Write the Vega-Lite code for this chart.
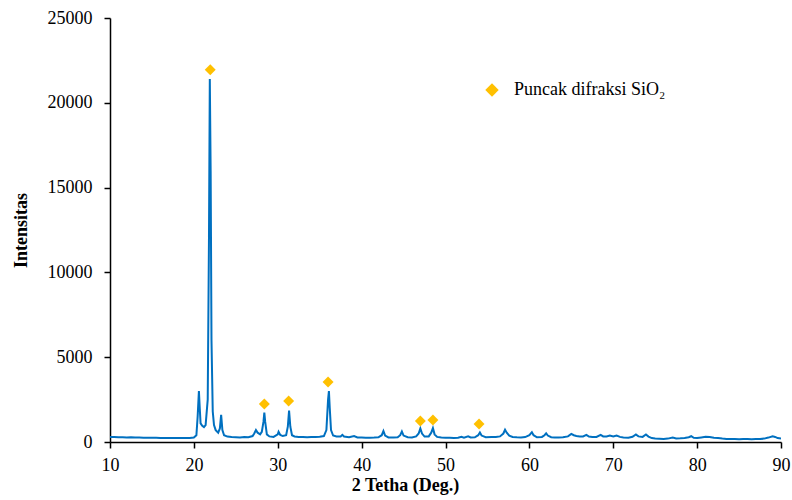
{
  "$schema": "https://vega.github.io/schema/vega-lite/v6.json",
  "autosize": "none",
  "width": 671,
  "height": 424,
  "padding": {"left": 110, "top": 18, "right": 11, "bottom": 58},
  "background": "white",
  "config": {
    "font": "Liberation Serif",
    "view": {"stroke": null},
    "axis": {"grid": false, "domainColor": "black", "tickColor": "black", "domainWidth": 1.5, "tickWidth": 1.5, "labelColor": "black", "titleColor": "black", "labelFont": "Liberation Serif", "titleFont": "Liberation Serif", "labelFontSize": 18, "titleFontSize": 18, "titleFontWeight": "bold"}
  },
  "datasets": {
    "xrd": [
      {"t": 10.0, "i": 300}, {"t": 10.5, "i": 290}, {"t": 11.0, "i": 280}, {"t": 11.5, "i": 285}, {"t": 12.0, "i": 270},
      {"t": 12.5, "i": 275}, {"t": 13.0, "i": 265}, {"t": 13.5, "i": 260}, {"t": 14.0, "i": 255}, {"t": 14.5, "i": 250},
      {"t": 15.0, "i": 245}, {"t": 15.5, "i": 250}, {"t": 16.0, "i": 240}, {"t": 16.5, "i": 240}, {"t": 17.0, "i": 235},
      {"t": 17.5, "i": 240}, {"t": 18.0, "i": 230}, {"t": 18.5, "i": 235}, {"t": 19.0, "i": 230}, {"t": 19.5, "i": 240},
      {"t": 20.0, "i": 260}, {"t": 20.3, "i": 400}, {"t": 20.45, "i": 1500}, {"t": 20.6, "i": 3000}, {"t": 20.7, "i": 2000},
      {"t": 20.8, "i": 1100}, {"t": 21.0, "i": 950}, {"t": 21.2, "i": 880}, {"t": 21.4, "i": 1000}, {"t": 21.65, "i": 2500},
      {"t": 21.8, "i": 12000}, {"t": 21.9, "i": 21400}, {"t": 22.0, "i": 16000}, {"t": 22.1, "i": 6000}, {"t": 22.25, "i": 1800},
      {"t": 22.4, "i": 1000}, {"t": 22.6, "i": 700}, {"t": 22.9, "i": 550}, {"t": 23.1, "i": 800}, {"t": 23.25, "i": 1600},
      {"t": 23.4, "i": 700}, {"t": 23.6, "i": 400}, {"t": 24.0, "i": 320}, {"t": 24.5, "i": 290}, {"t": 25.0, "i": 280},
      {"t": 25.5, "i": 270}, {"t": 26.0, "i": 300}, {"t": 26.5, "i": 280}, {"t": 27.0, "i": 350}, {"t": 27.2, "i": 500},
      {"t": 27.4, "i": 700}, {"t": 27.6, "i": 550}, {"t": 27.9, "i": 450}, {"t": 28.1, "i": 600}, {"t": 28.3, "i": 1200},
      {"t": 28.4, "i": 1730}, {"t": 28.5, "i": 1200}, {"t": 28.7, "i": 450}, {"t": 29.0, "i": 330}, {"t": 29.5, "i": 300},
      {"t": 30.0, "i": 450}, {"t": 30.1, "i": 600}, {"t": 30.3, "i": 420}, {"t": 30.6, "i": 350}, {"t": 31.0, "i": 400},
      {"t": 31.2, "i": 900}, {"t": 31.35, "i": 1850}, {"t": 31.5, "i": 900}, {"t": 31.7, "i": 400}, {"t": 32.0, "i": 330},
      {"t": 32.5, "i": 300}, {"t": 33.0, "i": 290}, {"t": 33.5, "i": 280}, {"t": 34.0, "i": 290}, {"t": 34.5, "i": 300},
      {"t": 35.0, "i": 310}, {"t": 35.5, "i": 350}, {"t": 35.8, "i": 700}, {"t": 36.0, "i": 2500}, {"t": 36.1, "i": 3000},
      {"t": 36.2, "i": 2000}, {"t": 36.35, "i": 700}, {"t": 36.6, "i": 380}, {"t": 37.0, "i": 320}, {"t": 37.5, "i": 330},
      {"t": 37.7, "i": 420}, {"t": 37.9, "i": 320}, {"t": 38.5, "i": 280}, {"t": 39.1, "i": 350}, {"t": 39.5, "i": 270},
      {"t": 40.0, "i": 260}, {"t": 40.5, "i": 250}, {"t": 41.0, "i": 255}, {"t": 41.5, "i": 260}, {"t": 42.0, "i": 280},
      {"t": 42.4, "i": 400}, {"t": 42.6, "i": 650}, {"t": 42.8, "i": 380}, {"t": 43.2, "i": 270}, {"t": 43.8, "i": 260},
      {"t": 44.3, "i": 280}, {"t": 44.6, "i": 400}, {"t": 44.8, "i": 620}, {"t": 45.0, "i": 380}, {"t": 45.5, "i": 280},
      {"t": 46.0, "i": 270}, {"t": 46.5, "i": 330}, {"t": 46.8, "i": 500}, {"t": 47.0, "i": 800}, {"t": 47.2, "i": 500},
      {"t": 47.5, "i": 320}, {"t": 48.0, "i": 330}, {"t": 48.3, "i": 550}, {"t": 48.5, "i": 820}, {"t": 48.7, "i": 450},
      {"t": 49.0, "i": 300}, {"t": 49.5, "i": 260}, {"t": 50.0, "i": 250}, {"t": 50.5, "i": 250}, {"t": 51.0, "i": 240},
      {"t": 51.5, "i": 250}, {"t": 51.9, "i": 310}, {"t": 52.2, "i": 260}, {"t": 52.7, "i": 340}, {"t": 53.0, "i": 270},
      {"t": 53.5, "i": 280}, {"t": 53.9, "i": 400}, {"t": 54.1, "i": 560}, {"t": 54.3, "i": 380}, {"t": 54.8, "i": 280},
      {"t": 55.5, "i": 290}, {"t": 56.0, "i": 300}, {"t": 56.5, "i": 330}, {"t": 56.9, "i": 500}, {"t": 57.1, "i": 720},
      {"t": 57.3, "i": 550}, {"t": 57.6, "i": 380}, {"t": 58.0, "i": 300}, {"t": 58.5, "i": 280}, {"t": 59.0, "i": 270},
      {"t": 59.5, "i": 290}, {"t": 60.0, "i": 400}, {"t": 60.3, "i": 580}, {"t": 60.5, "i": 400}, {"t": 60.9, "i": 280},
      {"t": 61.5, "i": 300}, {"t": 61.8, "i": 400}, {"t": 62.0, "i": 510}, {"t": 62.2, "i": 380}, {"t": 62.6, "i": 280},
      {"t": 63.0, "i": 260}, {"t": 63.5, "i": 270}, {"t": 64.0, "i": 280}, {"t": 64.6, "i": 330}, {"t": 65.0, "i": 480},
      {"t": 65.3, "i": 400}, {"t": 65.6, "i": 350}, {"t": 66.0, "i": 320}, {"t": 66.4, "i": 330}, {"t": 66.8, "i": 420},
      {"t": 67.1, "i": 320}, {"t": 67.5, "i": 290}, {"t": 68.0, "i": 300}, {"t": 68.5, "i": 420}, {"t": 68.8, "i": 330},
      {"t": 69.2, "i": 320}, {"t": 69.6, "i": 380}, {"t": 70.0, "i": 330}, {"t": 70.4, "i": 380}, {"t": 70.8, "i": 300},
      {"t": 71.2, "i": 260}, {"t": 71.8, "i": 250}, {"t": 72.3, "i": 310}, {"t": 72.7, "i": 440}, {"t": 73.0, "i": 330},
      {"t": 73.5, "i": 300}, {"t": 73.9, "i": 440}, {"t": 74.2, "i": 320}, {"t": 74.6, "i": 230}, {"t": 75.0, "i": 200},
      {"t": 75.5, "i": 190}, {"t": 76.0, "i": 180}, {"t": 76.5, "i": 200}, {"t": 77.1, "i": 260}, {"t": 77.5, "i": 210},
      {"t": 78.0, "i": 220}, {"t": 78.5, "i": 240}, {"t": 79.0, "i": 280}, {"t": 79.3, "i": 340}, {"t": 79.6, "i": 250},
      {"t": 80.0, "i": 230}, {"t": 80.5, "i": 270}, {"t": 81.0, "i": 310}, {"t": 81.5, "i": 290}, {"t": 82.0, "i": 250},
      {"t": 82.5, "i": 230}, {"t": 83.0, "i": 200}, {"t": 83.5, "i": 180}, {"t": 84.0, "i": 170}, {"t": 84.5, "i": 170},
      {"t": 85.0, "i": 165}, {"t": 85.5, "i": 170}, {"t": 86.0, "i": 170}, {"t": 86.5, "i": 165}, {"t": 87.0, "i": 170},
      {"t": 87.5, "i": 180}, {"t": 88.0, "i": 200}, {"t": 88.5, "i": 260}, {"t": 89.0, "i": 340}, {"t": 89.3, "i": 300},
      {"t": 89.6, "i": 230}, {"t": 90.0, "i": 200}
    ],
    "peaks": [
      {"t": 21.95, "i": 21950, "label": "Puncak difraksi SiO₂"},
      {"t": 28.4, "i": 2240, "label": "Puncak difraksi SiO₂"},
      {"t": 31.3, "i": 2420, "label": "Puncak difraksi SiO₂"},
      {"t": 36.0, "i": 3540, "label": "Puncak difraksi SiO₂"},
      {"t": 47.0, "i": 1240, "label": "Puncak difraksi SiO₂"},
      {"t": 48.5, "i": 1300, "label": "Puncak difraksi SiO₂"},
      {"t": 54.0, "i": 1060, "label": "Puncak difraksi SiO₂"}
    ]
  },
  "layer": [
    {
      "data": {"name": "xrd"},
      "mark": {"type": "line", "color": "#0070C0", "strokeWidth": 2, "clip": true},
      "encoding": {
        "x": {"field": "t", "type": "quantitative", "scale": {"domain": [10, 90], "nice": false},
          "axis": {"values": [10, 20, 30, 40, 50, 60, 70, 80, 90], "title": "2 Tetha (Deg.)", "tickSize": 6, "labelPadding": 8, "titleX": 295, "titleY": 48, "titleBaseline": "alphabetic", "titleAnchor": null, "labelFlush": false}},
        "y": {"field": "i", "type": "quantitative", "scale": {"domain": [0, 25000], "nice": false},
          "axis": {"values": [0, 5000, 10000, 15000, 20000, 25000], "title": "Intensitas", "tickSize": 6, "labelPadding": 12, "format": "d", "titleX": -89, "titleY": 212, "titleAngle": 270, "titleBaseline": "middle", "titleAlign": "center", "labelFlush": false}}
      }
    },
    {
      "data": {"name": "peaks"},
      "mark": {"type": "point", "shape": "diamond", "filled": true, "size": 120, "opacity": 1},
      "encoding": {
        "x": {"field": "t", "type": "quantitative"},
        "y": {"field": "i", "type": "quantitative"},
        "color": {"field": "label", "type": "nominal", "scale": {"range": ["#FFC000"]},
          "legend": {"title": null, "orient": "none", "legendX": 373, "legendY": 63, "symbolType": "diamond", "symbolSize": 180, "symbolOpacity": 1, "labelFontSize": 18, "labelFont": "Liberation Serif", "labelColor": "black", "labelOffset": 13, "padding": 0, "labelLimit": 400}}
      }
    }
  ]
}
